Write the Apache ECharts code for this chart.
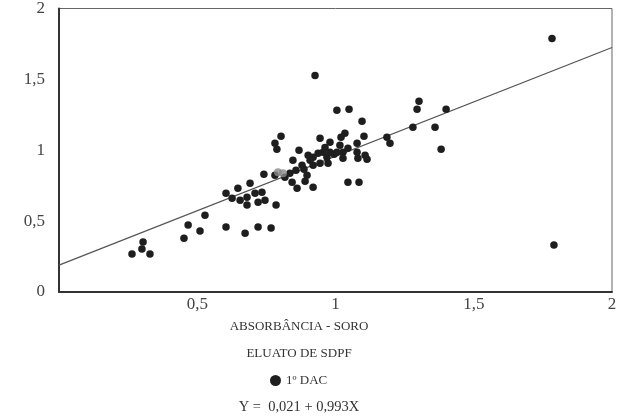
<!DOCTYPE html>
<html>
<head>
<meta charset="utf-8">
<script src="https://cdn.jsdelivr.net/npm/echarts@6/dist/echarts.min.js"></script>
<style>html,body{margin:0;padding:0;background:#fff}#c{width:630px;height:418px}</style>
</head>
<body>
<div id="c"></div>
<script>
// Scatter points: [x, y]
const pointsX = [0.264,0.300,0.304,0.329,0.452,0.467,0.510,0.528,0.604,0.673,0.720,0.767,0.785,
  0.604,0.626,0.647,0.655,0.680,0.691,0.680,0.709,0.720,0.734,0.745,0.741,
  0.781,0.788,0.803,0.781,0.817,0.835,0.843,0.846,0.868,0.861,
  0.879,0.886,0.897,0.890,0.901,0.919,0.919,0.919,0.937,0.944,0.944,0.955,0.969,0.973,0.980,0.980,0.995,
  1.005,1.005,1.020,1.016,1.027,1.027,1.034,1.045,1.045,1.049,1.078,1.078,1.081,1.085,1.096,1.103,1.107,1.114,
  0.926,1.186,1.197,1.280,1.295,1.302,1.360,1.382,1.400,1.783,1.790,0.908,0.962,0.857];
const pointsY = [0.268,0.303,0.352,0.268,0.380,0.472,0.430,0.542,0.458,0.415,0.458,0.451,0.613,
  0.697,0.662,0.732,0.648,0.669,0.768,0.613,0.697,0.634,0.704,0.648,0.831,
  1.049,1.007,1.099,0.824,0.810,0.838,0.775,0.930,1.000,0.732,
  0.894,0.866,0.824,0.782,0.965,0.951,0.894,0.739,0.979,0.908,1.085,0.986,0.951,0.908,1.056,0.986,0.972,
  1.282,0.986,1.092,1.035,0.986,0.944,1.120,1.014,0.775,1.289,1.049,0.986,0.944,0.775,1.204,1.099,0.965,0.937,
  1.528,1.092,1.049,1.162,1.289,1.345,1.162,1.007,1.289,1.789,0.331,0.930,1.020,0.859];
// Grey (overlapping) points
const greyX = [0.792, 0.810];
const greyY = [0.845, 0.838];
// Fitted line endpoints as drawn
const lineX = [0, 2];
const lineY = [0.19, 1.725];
// Tick labels
const tickLabels = {0: '0', 0.5: '0,5', 1: '1', 1.5: '1,5', 2: '2'};
const xTitle = 'ABSORBÂNCIA - SORO';
const subTitle = 'ELUATO DE SDPF';
const seriesName = '1º DAC';
const equation = 'Y =  0,021 + 0,993X';

const pts = pointsX.map((x, i) => [x, pointsY[i]]);
const grey = greyX.map((x, i) => [x, greyY[i]]);
const line = lineX.map((x, i) => [x, lineY[i]]);
const font = 'Liberation Serif';
const txt = (t, y, s) => ({type: 'text', x: 299, y: y,
  style: {text: t, font: s + 'px "Liberation Serif"', fill: '#333', align: 'center', verticalAlign: 'middle'}});

const chart = echarts.init(document.getElementById('c'));
chart.setOption({
  animation: false,
  backgroundColor: '#fff',
  grid: {left: 59, right: 18, top: 8, bottom: 126, show: true, borderColor: '#666', borderWidth: 1},
  xAxis: {
    type: 'value', min: 0, max: 2, interval: 0.5,
    axisLine: {show: true, lineStyle: {color: '#333', width: 2}},
    axisTick: {show: false}, splitLine: {show: false},
    axisLabel: {margin: 4, fontFamily: font, fontSize: 17, color: '#444',
      formatter: v => v === 0 ? '' : tickLabels[v]}
  },
  yAxis: {
    type: 'value', min: 0, max: 2, interval: 0.5,
    axisLine: {show: true, lineStyle: {color: '#333', width: 2}},
    axisTick: {show: false}, splitLine: {show: false},
    axisLabel: {margin: 14, fontFamily: font, fontSize: 17, color: '#444',
      formatter: v => tickLabels[v]}
  },
  legend: {
    data: [{name: seriesName, icon: 'circle'}],
    top: 374, left: 270, itemWidth: 11, itemHeight: 11, itemGap: 4,
    padding: 0,
    textStyle: {fontFamily: font, fontSize: 13, color: '#333'}
  },
  graphic: [txt(xTitle, 327, 13), txt(subTitle, 354, 13), txt(equation, 407, 14.5)],
  series: [
    {type: 'line', data: line, showSymbol: false, symbol: 'none',
      lineStyle: {color: '#555', width: 1.3}, silent: true, z: 1},
    {name: seriesName, type: 'scatter', data: pts, symbolSize: 7.5,
      itemStyle: {color: '#1e1e1e', opacity: 1}, z: 3},
    {type: 'scatter', data: grey, symbolSize: 8, itemStyle: {color: '#8a8a8a'}, z: 4}
  ]
});
</script>
</body>
</html>
